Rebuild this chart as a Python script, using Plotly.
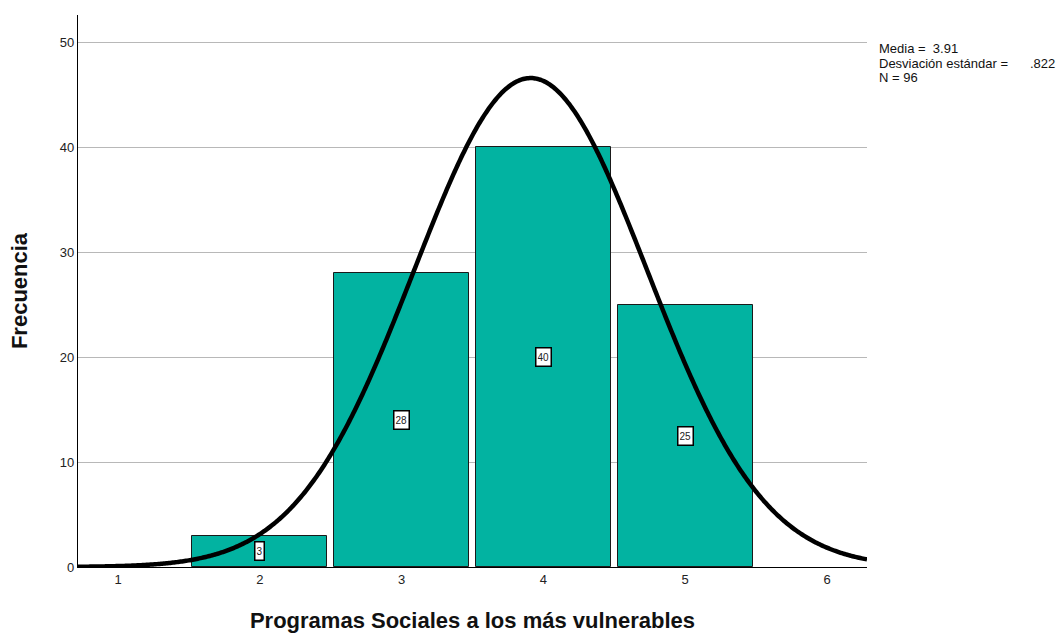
import numpy as np
import plotly.graph_objects as go

categories = [2, 3, 4, 5]
frequencies = [3, 28, 40, 25]
mean_val = 3.91
sd_val = 0.822
n_val = 96
x_ticks = [1, 2, 3, 4, 5, 6]
y_ticks = [0, 10, 20, 30, 40, 50]

fig = go.Figure()

fig.add_trace(go.Bar(
    x=categories, y=frequencies, width=0.95,
    marker=dict(color="#02B3A1", line=dict(color="#1a1a1a", width=1)),
    showlegend=False, hoverinfo="x+y",
))

# normal curve scaled to counts (bin width 1)
xs = np.linspace(0.718, 6.282, 600)
ys = n_val * 1.0 / (sd_val * np.sqrt(2 * np.pi)) * np.exp(-0.5 * ((xs - mean_val) / sd_val) ** 2)
fig.add_trace(go.Scatter(x=xs, y=ys, mode="lines",
                         line=dict(color="black", width=4.5, simplify=False), showlegend=False))

for c, f in zip(categories, frequencies):
    fig.add_annotation(x=c, y=f / 2, text=str(f), showarrow=False,
                       font=dict(family="Arial", size=10, color="#222"), height=15,
                       bgcolor="white", bordercolor="black", borderwidth=1.5, borderpad=1)

stat_font = dict(family="Arial", size=13, color="#111")
fig.add_annotation(xref="paper", yref="paper", x=1.0127, y=0.9402, xanchor="left", yanchor="middle",
                   showarrow=False, text="Media = &nbsp;3.91", font=stat_font)
fig.add_annotation(xref="paper", yref="paper", x=1.0127, y=0.9130, xanchor="left", yanchor="middle",
                   showarrow=False, text="Desviación estándar =", font=stat_font)
fig.add_annotation(xref="paper", yref="paper", x=1.2408, y=0.9130, xanchor="right", yanchor="middle",
                   showarrow=False, text=".822", font=stat_font)
fig.add_annotation(xref="paper", yref="paper", x=1.0127, y=0.8859, xanchor="left", yanchor="middle",
                   showarrow=False, text="N = 96", font=stat_font)

fig.update_layout(
    width=1059, height=633,
    margin=dict(l=78, r=192, t=15, b=66),
    plot_bgcolor="white", paper_bgcolor="white",
    font=dict(family="Arial", color="#222"),
    bargap=0,
    xaxis=dict(range=[0.718, 6.282], tickvals=x_ticks, ticktext=[str(t) for t in x_ticks],
               showgrid=False, showline=True, linecolor="black", linewidth=1.2,
               ticks="", tickfont=dict(size=13, color="#222"), zeroline=False, automargin=False,
               title=dict(text="<b>Programas Sociales a los más vulnerables</b>",
                          font=dict(size=22, color="#111"), standoff=30)),
    yaxis=dict(range=[0, 52.6], tickvals=y_ticks, showgrid=True, gridcolor="#b8b8b8",
               gridwidth=1, showline=True, linecolor="black", linewidth=1.2,
               ticks="", tickfont=dict(size=13, color="#222"), zeroline=False, automargin=False,
               title=dict(text="<b>Frecuencia</b>", font=dict(size=22, color="#111"), standoff=26)),
)

fig.write_html("out.html", config={"displayModeBar": False},
               post_script="document.body.style.margin='0';window.dispatchEvent(new Event('resize'));")
